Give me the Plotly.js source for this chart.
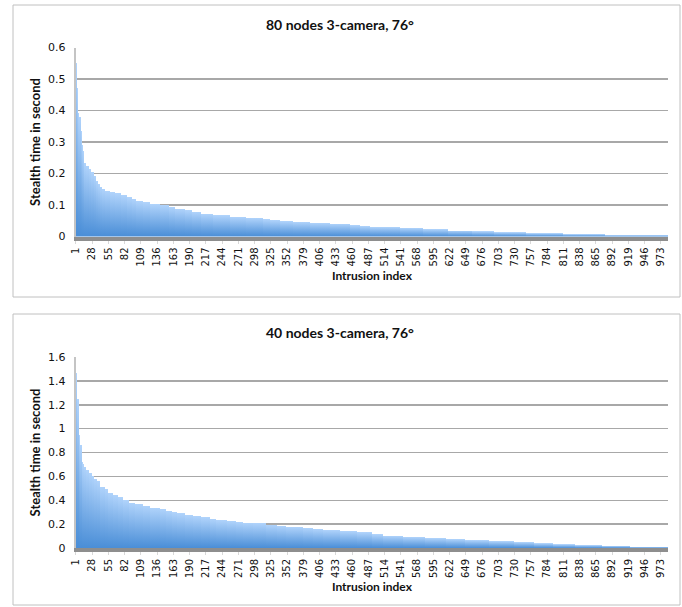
<!DOCTYPE html>
<html><head><meta charset="utf-8">
<script src="https://cdn.plot.ly/plotly-3.0.1.min.js"></script>
<style>html,body{margin:0;padding:0;background:#fff;} #chart{width:682px;height:607px;}</style>
</head><body>
<svg width="0" height="0" style="position:absolute">
<defs><linearGradient id="barGrad" x1="0" y1="0" x2="0" y2="1">
<stop offset="0" stop-color="#b0d3fb"/><stop offset="1" stop-color="#4a8ed7"/></linearGradient></defs></svg>
<div id="chart"></div>
<script>
const titleTop = "80 nodes 3-camera, 76°";
const titleBottom = "40 nodes 3-camera, 76°";
const xTitle = "Intrusion index";
const yTitle = "Stealth time in second";
const nIntrusions = 985;
const tickLabels = [1,28,55,82,109,136,163,190,217,244,271,298,325,352,379,406,433,460,487,514,541,568,595,622,649,676,703,730,757,784,811,838,865,892,919,946,973];

// 80 nodes: sorted stealth times as runs (number of intrusions, value)
const topRunLengths = [3,1,2,3,2,2,1,4,4,4, 4,4,3,3,4,5,8,8,11,9, 8,8,11,11,17,16,9,17,11,16, 20,27,28,28,11,17,22,28,33,33, 17,17,49,38,42,40,36,54,61,69, 106];
const topRunValues = [0.552,0.47,0.393,0.38,0.335,0.29,0.272,0.232,0.225,0.214, 0.204,0.193,0.177,0.167,0.158,0.151,0.146,0.14,0.137,0.132, 0.124,0.119,0.112,0.108,0.103,0.1,0.093,0.088,0.083,0.078, 0.072,0.067,0.062,0.059,0.054,0.052,0.048,0.046,0.043,0.041, 0.036,0.033,0.030,0.027,0.023,0.019,0.016,0.013,0.010,0.007, 0.004];

// 40 nodes
const bottomRunLengths = [3,2,1,2,2,2,2,4,5,4, 3,5,5,9,5,8,9,8,9,11, 13,12,16,11,9,8,14,13,14,14, 11,17,16,12,16,22,17,16,28,17, 16,28,28,25,19,33,36,36,31,40, 42,33,32,36,44,47,64];
const bottomRunValues = [1.465,1.245,1.072,0.946,0.863,0.72,0.705,0.681,0.653,0.625, 0.603,0.58,0.564,0.514,0.491,0.463,0.444,0.424,0.402,0.38, 0.366,0.355,0.338,0.327,0.313,0.299,0.29,0.276,0.268,0.257, 0.245,0.234,0.226,0.218,0.212,0.207,0.195,0.187,0.178,0.167, 0.159,0.151,0.14,0.13,0.114,0.102,0.092,0.082,0.074,0.065, 0.056,0.048,0.038,0.030,0.023,0.017,0.008];

function expandRuns(lengths, values) {
  const out = [];
  lengths.forEach((n, i) => { for (let k = 0; k < n; k++) out.push(values[i]); });
  return out;
}
const xIdx = [];
for (let i = 1; i <= nIntrusions; i++) xIdx.push(i);
const yTop = expandRuns(topRunLengths, topRunValues);
const yBottom = expandRuns(bottomRunLengths, bottomRunValues);

const W = 682, H = 607;
const px = v => v / W;
const py = v => 1 - v / H;

const FONT = "Lato, 'Open Sans', sans-serif";
const TICKFONT = "'DejaVu Sans', Verdana, sans-serif";
const tickFont = {family: TICKFONT, size: 11, color: '#111'};
const xTickFont = {family: TICKFONT, size: 10, color: '#111'};

function xAxis(anchor) {
  return {
    anchor: anchor, domain: [px(75.6), px(668.3)], range: [0.5, nIntrusions + 0.5],
    tickmode: 'array', tickvals: tickLabels, ticktext: tickLabels.map(String),
    tickangle: -90, tickfont: xTickFont, ticks: 'outside', ticklen: 3, tickcolor: '#d8d8d8',
    showgrid: false, zeroline: false, showline: true, linecolor: '#8e8e8e', linewidth: 4,
    title: {text: xTitle, font: {family: FONT, size: 12, color: '#111', weight: 'bold'}, standoff: 7}, fixedrange: true
  };
}
function yAxis(anchor, top, bottom, max, dtick) {
  return {
    anchor: anchor, domain: [py(bottom), py(top)], range: [0, max], dtick: dtick,
    tickfont: tickFont, ticks: '', ticklabelstandoff: 6,
    showgrid: true, gridcolor: '#a8a8a8', gridwidth: 1.5, zeroline: false,
    showline: true, linecolor: '#c4c4c4', linewidth: 2,
    title: {text: yTitle, font: {family: FONT, size: 13, color: '#111', weight: 'bold'}, standoff: 4}, fixedrange: true
  };
}

const barStyle = {color: '#7cb0ea', line: {width: 0}};
const data = [
  {type: 'bar', x: xIdx, y: yTop, xaxis: 'x', yaxis: 'y', marker: barStyle, hoverinfo: 'skip'},
  {type: 'bar', x: xIdx, y: yBottom, xaxis: 'x2', yaxis: 'y2', marker: barStyle, hoverinfo: 'skip'}
];

const titleFont = {family: FONT, size: 14, color: '#111', weight: 'bold'};
const layout = {
  width: W, height: H, margin: {l: 0, r: 0, t: 0, b: 0},
  paper_bgcolor: '#fff', plot_bgcolor: 'rgba(0,0,0,0)', showlegend: false, bargap: 0,
  font: {family: FONT},
  xaxis: xAxis('y'), yaxis: yAxis('x', 47.5, 236.5, 0.6, 0.1),
  xaxis2: xAxis('y2'), yaxis2: yAxis('x2', 357, 548, 1.6, 0.2),
  shapes: [
    {type: 'rect', xref: 'paper', yref: 'paper', x0: px(13), x1: px(680), y0: py(297), y1: py(5), line: {color: '#c0c0c0', width: 1}, layer: 'below'},
    {type: 'rect', xref: 'paper', yref: 'paper', x0: px(13), x1: px(680), y0: py(605), y1: py(314), line: {color: '#c0c0c0', width: 1}, layer: 'below'}
  ],
  annotations: [
    {text: titleTop, xref: 'paper', yref: 'paper', x: px(340), y: py(25), showarrow: false, xanchor: 'center', yanchor: 'middle', font: titleFont},
    {text: titleBottom, xref: 'paper', yref: 'paper', x: px(340), y: py(333), showarrow: false, xanchor: 'center', yanchor: 'middle', font: titleFont}
  ]
};

Plotly.newPlot('chart', data, layout, {staticPlot: true, displayModeBar: false}).then(() => {
  document.querySelectorAll('#chart .barlayer .point path').forEach(p => { p.style.fill = 'url(#barGrad)'; });
});
</script>
</body></html>
